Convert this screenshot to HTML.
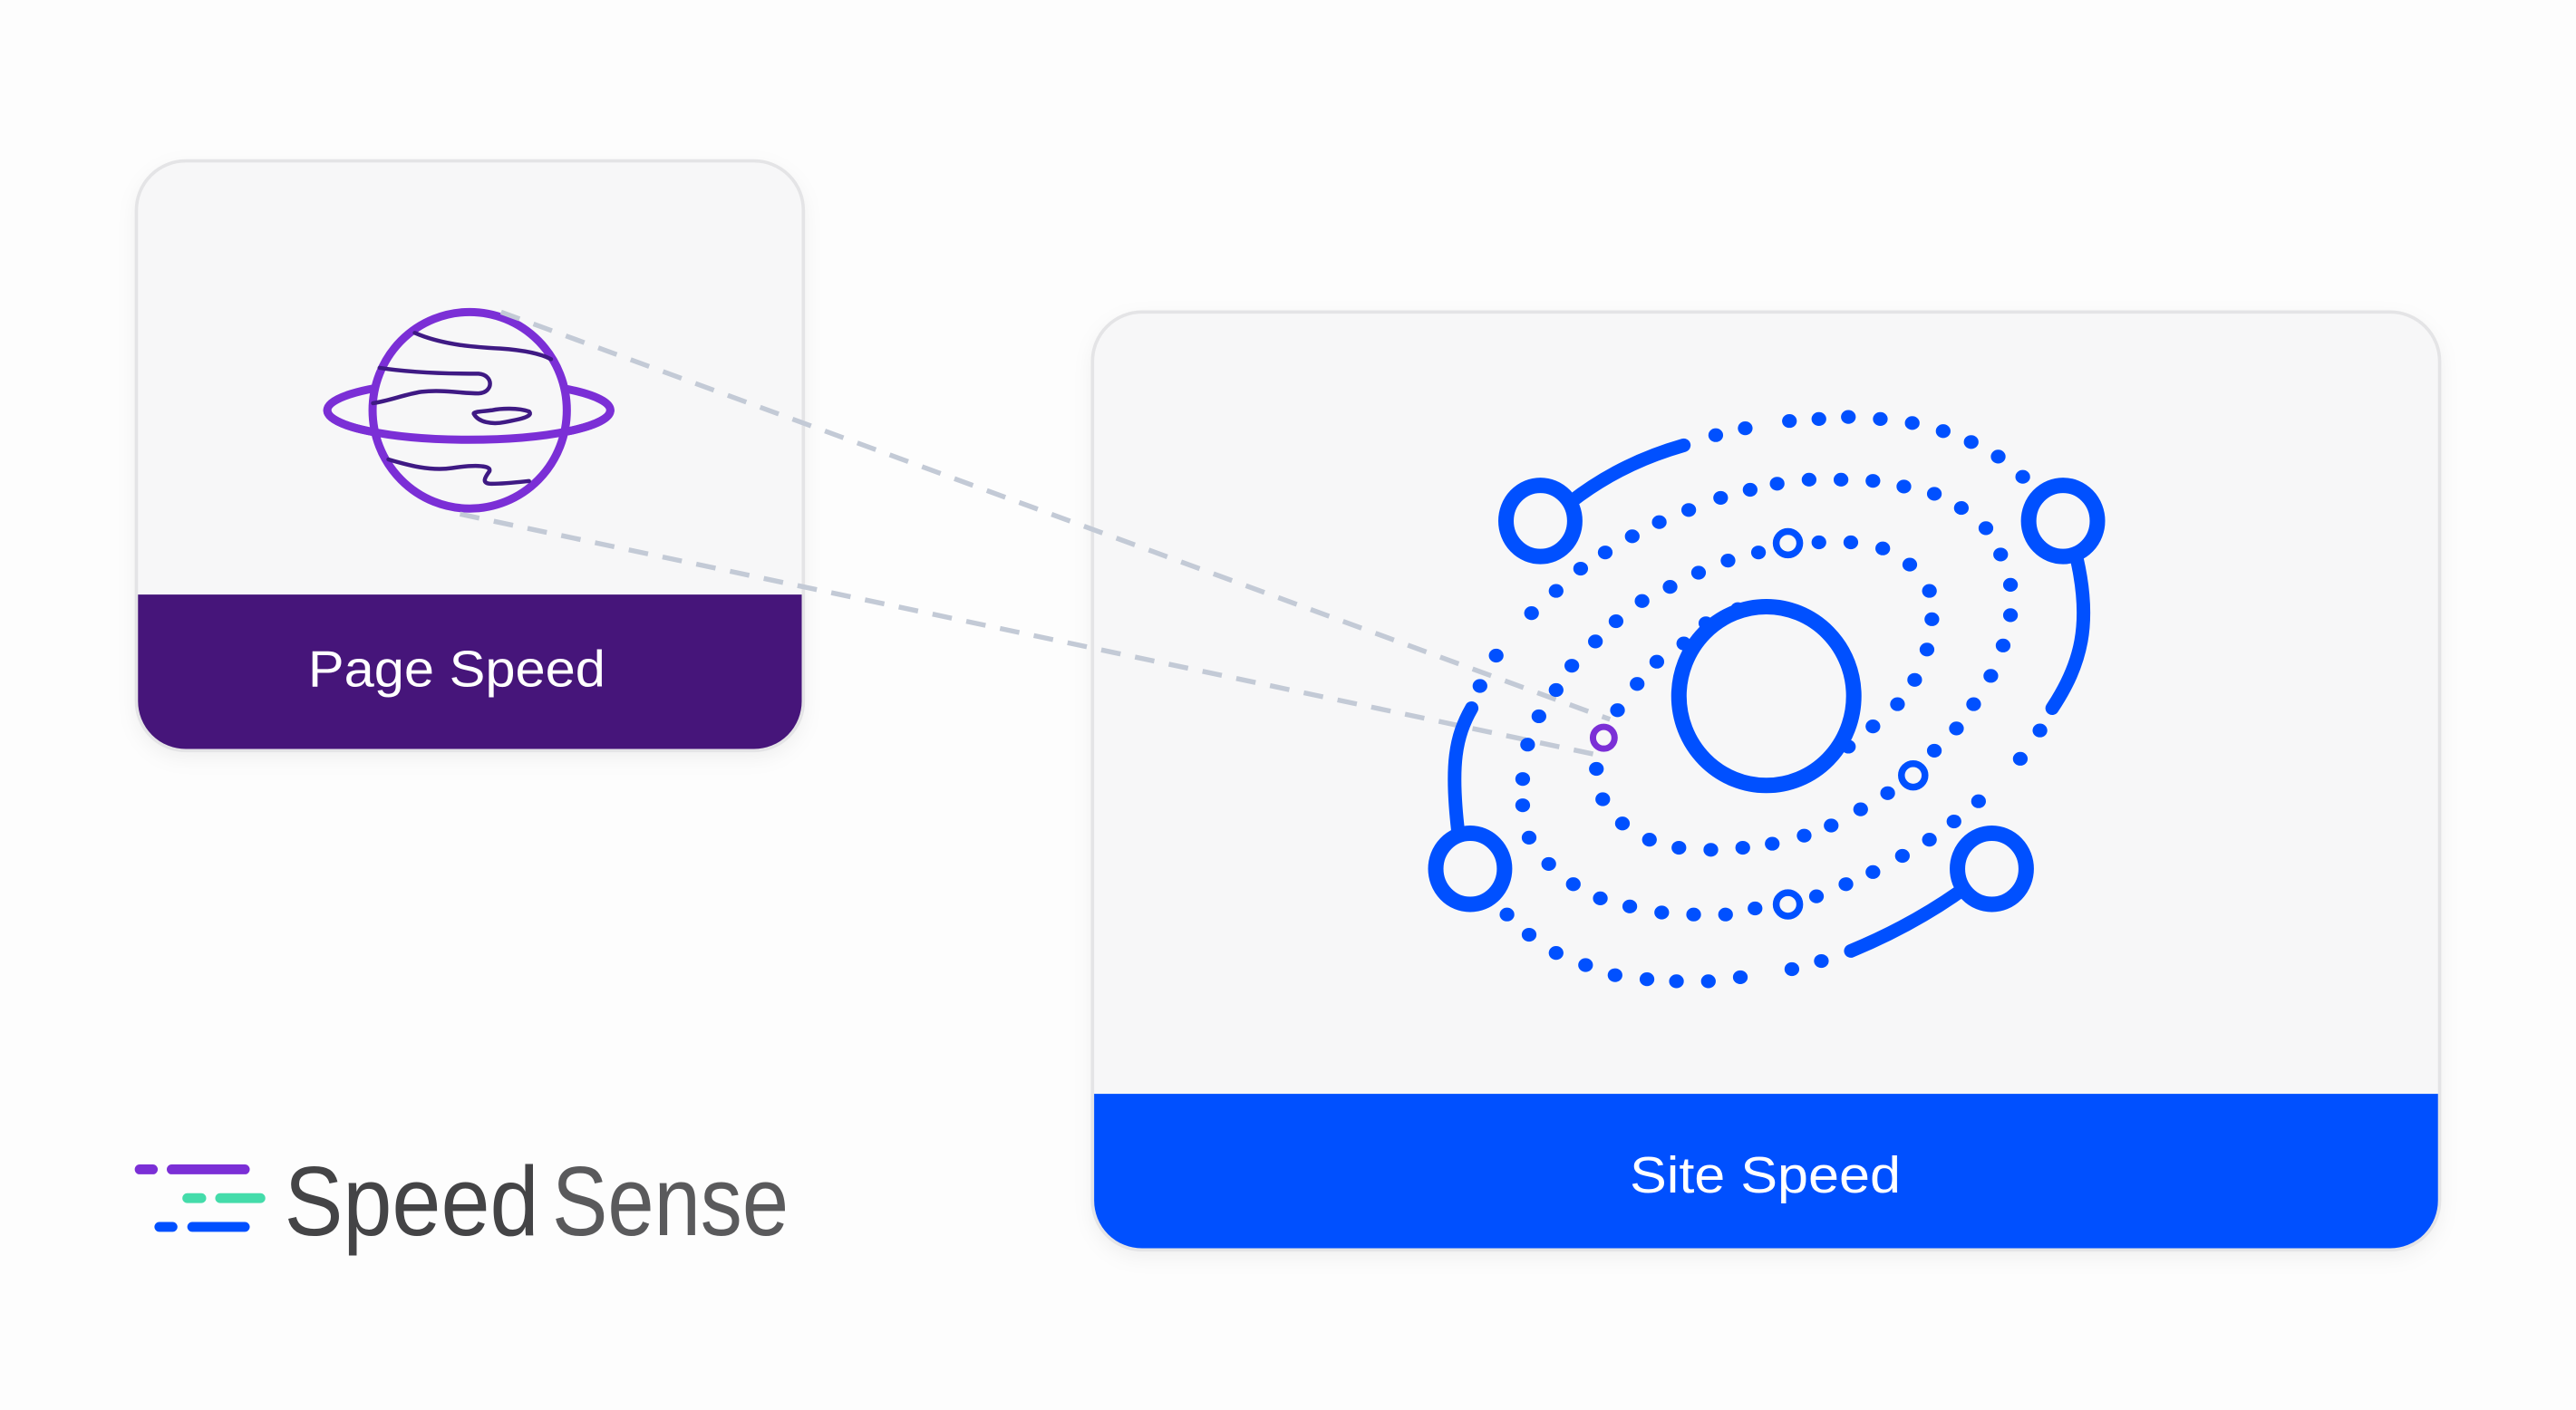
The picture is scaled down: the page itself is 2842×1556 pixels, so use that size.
<!DOCTYPE html>
<html><head><meta charset="utf-8"><style>
html,body{margin:0;padding:0;background:#fdfdfd;}
svg{display:block;}
</style></head><body>
<svg width="2842" height="1556" viewBox="0 0 1568 858.5" xmlns="http://www.w3.org/2000/svg">
<defs>
<clipPath id="c1"><rect x="83" y="98" width="406" height="359" rx="30"/></clipPath>
<clipPath id="c2"><rect x="665" y="190" width="820" height="571" rx="30"/></clipPath>
<filter id="sh" x="-10%" y="-10%" width="120%" height="130%"><feDropShadow dx="0" dy="4" stdDeviation="6" flood-color="#000" flood-opacity="0.06"/></filter>
</defs>
<rect width="1568" height="858.5" fill="#fdfdfd"/>

<g filter="url(#sh)">
<rect x="83" y="98" width="406" height="359" rx="30" fill="#f7f7f8"/>
</g>
<g clip-path="url(#c1)">
<rect x="80" y="362" width="412" height="100" fill="#46157a"/>
</g>
<rect x="83" y="98" width="406" height="359" rx="30" fill="none" stroke="#e4e4e6" stroke-width="2"/>
<text x="278" y="418" text-anchor="middle" font-family="Liberation Sans, sans-serif" font-size="31" fill="#fff" textLength="181" lengthAdjust="spacingAndGlyphs">Page Speed</text>

<g transform="translate(77.24,88.28) scale(0.2675,0.2393)" fill="none" stroke-linecap="round">
<ellipse cx="778" cy="675" rx="322" ry="75" stroke="#7b2fd6" stroke-width="9" vector-effect="non-scaling-stroke"/>
<ellipse cx="780" cy="675" rx="221" ry="250" fill="#f7f7f8" stroke="#7b2fd6" stroke-width="9" vector-effect="non-scaling-stroke"/>
<g stroke="#3f1a84" stroke-width="4.5">
<path vector-effect="non-scaling-stroke" d="M655,478 C720,510 800,515 850,518 C900,522 940,530 965,545"/>
<path vector-effect="non-scaling-stroke" d="M575,567 C650,580 740,582 800,582 C835,585 835,630 800,632 C760,632 720,622 670,628 C630,635 600,650 560,657"/>
<path vector-effect="non-scaling-stroke" d="M790,685 C800,705 830,712 860,705 C900,697 925,690 915,678 C890,668 850,670 830,675 C810,678 785,678 790,685 Z"/>
<path vector-effect="non-scaling-stroke" d="M595,800 C640,815 690,830 740,822 C780,815 830,812 825,830 C815,845 805,862 830,862 C860,862 890,858 915,855"/>
</g>
<path d="M456,675 A322 75 0 0 0 1100,675" stroke="#7b2fd6" stroke-width="9" vector-effect="non-scaling-stroke"/>
</g>

<g filter="url(#sh)">
<rect x="665" y="190" width="820" height="571" rx="30" fill="#f7f7f8"/>
</g>
<g clip-path="url(#c2)">
<rect x="660" y="666" width="830" height="100" fill="#0050ff"/>
</g>
<rect x="665" y="190" width="820" height="571" rx="30" fill="none" stroke="#e4e4e6" stroke-width="2"/>
<text x="1074.5" y="726" text-anchor="middle" font-family="Liberation Sans, sans-serif" font-size="31" fill="#fff" textLength="165" lengthAdjust="spacingAndGlyphs">Site Speed</text>

<g stroke="#c3cad6" stroke-width="3" stroke-dasharray="12 9" fill="none">
<line x1="305" y1="190" x2="980" y2="438"/>
<line x1="280" y1="313" x2="974" y2="460"/>
</g>

<g transform="matrix(0.299,0,0,0.2463,827.6,231.7)">
<g fill="#0050ff">
<ellipse cx="725" cy="135" rx="15" ry="17"/><ellipse cx="785" cy="118" rx="15" ry="17"/><ellipse cx="875" cy="100" rx="15" ry="17"/><ellipse cx="935" cy="95" rx="15" ry="17"/><ellipse cx="995" cy="90" rx="15" ry="17"/><ellipse cx="1060" cy="95" rx="15" ry="17"/><ellipse cx="1125" cy="105" rx="15" ry="17"/><ellipse cx="1188" cy="125" rx="15" ry="17"/><ellipse cx="1245" cy="152" rx="15" ry="17"/><ellipse cx="1300" cy="188" rx="15" ry="17"/><ellipse cx="1350" cy="238" rx="15" ry="17"/>
<ellipse cx="1385" cy="865" rx="15" ry="17"/><ellipse cx="1345" cy="935" rx="15" ry="17"/>
<ellipse cx="940" cy="1435" rx="15" ry="17"/><ellipse cx="880" cy="1455" rx="15" ry="17"/><ellipse cx="775" cy="1475" rx="15" ry="17"/><ellipse cx="710" cy="1485" rx="15" ry="17"/><ellipse cx="645" cy="1485" rx="15" ry="17"/><ellipse cx="585" cy="1480" rx="15" ry="17"/><ellipse cx="520" cy="1470" rx="15" ry="17"/><ellipse cx="460" cy="1445" rx="15" ry="17"/><ellipse cx="400" cy="1415" rx="15" ry="17"/><ellipse cx="345" cy="1370" rx="15" ry="17"/><ellipse cx="300" cy="1320" rx="15" ry="17"/>
<ellipse cx="245" cy="755" rx="15" ry="17"/><ellipse cx="278" cy="680" rx="15" ry="17"/>
<ellipse cx="350" cy="575" rx="15" ry="17"/><ellipse cx="400" cy="520" rx="15" ry="17"/><ellipse cx="450" cy="465" rx="15" ry="17"/><ellipse cx="500" cy="425" rx="15" ry="17"/><ellipse cx="555" cy="385" rx="15" ry="17"/><ellipse cx="610" cy="350" rx="15" ry="17"/><ellipse cx="670" cy="320" rx="15" ry="17"/><ellipse cx="735" cy="290" rx="15" ry="17"/><ellipse cx="795" cy="270" rx="15" ry="17"/><ellipse cx="850" cy="255" rx="15" ry="17"/><ellipse cx="915" cy="245" rx="15" ry="17"/><ellipse cx="980" cy="245" rx="15" ry="17"/><ellipse cx="1045" cy="248" rx="15" ry="17"/><ellipse cx="1108" cy="262" rx="15" ry="17"/><ellipse cx="1170" cy="280" rx="15" ry="17"/><ellipse cx="1225" cy="315" rx="15" ry="17"/><ellipse cx="1275" cy="365" rx="15" ry="17"/><ellipse cx="1305" cy="430" rx="15" ry="17"/><ellipse cx="1325" cy="505" rx="15" ry="17"/><ellipse cx="1325" cy="580" rx="15" ry="17"/><ellipse cx="1310" cy="655" rx="15" ry="17"/><ellipse cx="1285" cy="730" rx="15" ry="17"/><ellipse cx="1250" cy="800" rx="15" ry="17"/><ellipse cx="1215" cy="860" rx="15" ry="17"/><ellipse cx="1170" cy="915" rx="15" ry="17"/>
<ellipse cx="1075" cy="1020" rx="15" ry="17"/><ellipse cx="1020" cy="1060" rx="15" ry="17"/><ellipse cx="960" cy="1100" rx="15" ry="17"/><ellipse cx="905" cy="1125" rx="15" ry="17"/><ellipse cx="840" cy="1145" rx="15" ry="17"/><ellipse cx="780" cy="1155" rx="15" ry="17"/><ellipse cx="715" cy="1160" rx="15" ry="17"/><ellipse cx="650" cy="1155" rx="15" ry="17"/><ellipse cx="590" cy="1135" rx="15" ry="17"/><ellipse cx="535" cy="1095" rx="15" ry="17"/><ellipse cx="495" cy="1035" rx="15" ry="17"/><ellipse cx="482" cy="960" rx="15" ry="17"/>
<ellipse cx="525" cy="815" rx="15" ry="17"/><ellipse cx="565" cy="750" rx="15" ry="17"/><ellipse cx="605" cy="695" rx="15" ry="17"/><ellipse cx="660" cy="650" rx="15" ry="17"/><ellipse cx="705" cy="600" rx="15" ry="17"/><ellipse cx="770" cy="565" rx="15" ry="17"/>
<ellipse cx="1260" cy="1040" rx="15" ry="17"/><ellipse cx="1210" cy="1090" rx="15" ry="17"/><ellipse cx="1160" cy="1135" rx="15" ry="17"/><ellipse cx="1105" cy="1175" rx="15" ry="17"/><ellipse cx="1045" cy="1215" rx="15" ry="17"/><ellipse cx="990" cy="1245" rx="15" ry="17"/><ellipse cx="930" cy="1275" rx="15" ry="17"/>
<ellipse cx="805" cy="1305" rx="15" ry="17"/><ellipse cx="745" cy="1320" rx="15" ry="17"/><ellipse cx="680" cy="1320" rx="15" ry="17"/><ellipse cx="615" cy="1315" rx="15" ry="17"/><ellipse cx="550" cy="1300" rx="15" ry="17"/><ellipse cx="490" cy="1280" rx="15" ry="17"/><ellipse cx="435" cy="1245" rx="15" ry="17"/><ellipse cx="385" cy="1195" rx="15" ry="17"/><ellipse cx="345" cy="1130" rx="15" ry="17"/><ellipse cx="332" cy="1050" rx="15" ry="17"/><ellipse cx="332" cy="985" rx="15" ry="17"/><ellipse cx="342" cy="900" rx="15" ry="17"/><ellipse cx="365" cy="830" rx="15" ry="17"/><ellipse cx="400" cy="765" rx="15" ry="17"/><ellipse cx="432" cy="705" rx="15" ry="17"/><ellipse cx="480" cy="645" rx="15" ry="17"/><ellipse cx="522" cy="595" rx="15" ry="17"/><ellipse cx="575" cy="545" rx="15" ry="17"/><ellipse cx="632" cy="510" rx="15" ry="17"/><ellipse cx="690" cy="475" rx="15" ry="17"/><ellipse cx="750" cy="445" rx="15" ry="17"/><ellipse cx="812" cy="425" rx="15" ry="17"/>
<ellipse cx="935" cy="400" rx="15" ry="17"/><ellipse cx="1000" cy="400" rx="15" ry="17"/><ellipse cx="1065" cy="415" rx="15" ry="17"/><ellipse cx="1120" cy="455" rx="15" ry="17"/><ellipse cx="1160" cy="520" rx="15" ry="17"/><ellipse cx="1165" cy="590" rx="15" ry="17"/><ellipse cx="1155" cy="665" rx="15" ry="17"/><ellipse cx="1130" cy="740" rx="15" ry="17"/><ellipse cx="1095" cy="800" rx="15" ry="17"/><ellipse cx="1045" cy="855" rx="15" ry="17"/><ellipse cx="995" cy="905" rx="15" ry="17"/>
</g>
<g fill="none" stroke="#0050ff" stroke-width="15" stroke-linecap="round">
<path vector-effect="non-scaling-stroke" d="M430,300 Q530,205 660,160"/>
<path vector-effect="non-scaling-stroke" d="M1460,440 C1490,600 1470,700 1410,810"/>
<path vector-effect="non-scaling-stroke" d="M1220,1265 Q1120,1350 1000,1410"/>
<path vector-effect="non-scaling-stroke" d="M200,1110 C185,950 195,880 228,810"/>
</g>
<g fill="none" stroke="#0050ff" stroke-width="17">
<ellipse vector-effect="non-scaling-stroke" cx="828" cy="780" rx="178" ry="221"/>
<ellipse vector-effect="non-scaling-stroke" cx="368" cy="347" rx="70" ry="88" fill="#f7f7f8"/>
<ellipse vector-effect="non-scaling-stroke" cx="1432" cy="347" rx="70" ry="88" fill="#f7f7f8"/>
<ellipse vector-effect="non-scaling-stroke" cx="225" cy="1207" rx="70" ry="88" fill="#f7f7f8"/>
<ellipse vector-effect="non-scaling-stroke" cx="1287" cy="1207" rx="70" ry="88" fill="#f7f7f8"/>
</g>
<g fill="#f7f7f8" stroke="#0050ff" stroke-width="7.5">
<ellipse vector-effect="non-scaling-stroke" cx="872" cy="402" rx="24" ry="29"/>
<ellipse vector-effect="non-scaling-stroke" cx="1127" cy="976" rx="24" ry="29"/>
<ellipse vector-effect="non-scaling-stroke" cx="872" cy="1295" rx="24" ry="29"/>
</g>
<ellipse vector-effect="non-scaling-stroke" cx="497" cy="883" rx="22" ry="27" fill="#f7f7f8" stroke="#7b2fd6" stroke-width="7"/>
</g>

<g stroke-linecap="round" stroke-width="6">
<line x1="85" y1="712" x2="93" y2="712" stroke="#7b2fd6"/>
<line x1="104.5" y1="712" x2="149" y2="712" stroke="#7b2fd6"/>
<line x1="114" y1="729.5" x2="122.5" y2="729.5" stroke="#44dcaa"/>
<line x1="134" y1="729.5" x2="158.5" y2="729.5" stroke="#44dcaa"/>
<line x1="97" y1="747" x2="105" y2="747" stroke="#0050ff"/>
<line x1="117" y1="747" x2="149" y2="747" stroke="#0050ff"/>
</g>
<text x="173" y="752" font-family="Liberation Sans, sans-serif" font-size="60" fill="#444446" textLength="155" lengthAdjust="spacingAndGlyphs">Speed</text>
<text x="336" y="752" font-family="Liberation Sans, sans-serif" font-size="60" fill="#5a5a5c" textLength="144" lengthAdjust="spacingAndGlyphs">Sense</text>
</svg>
</body></html>
